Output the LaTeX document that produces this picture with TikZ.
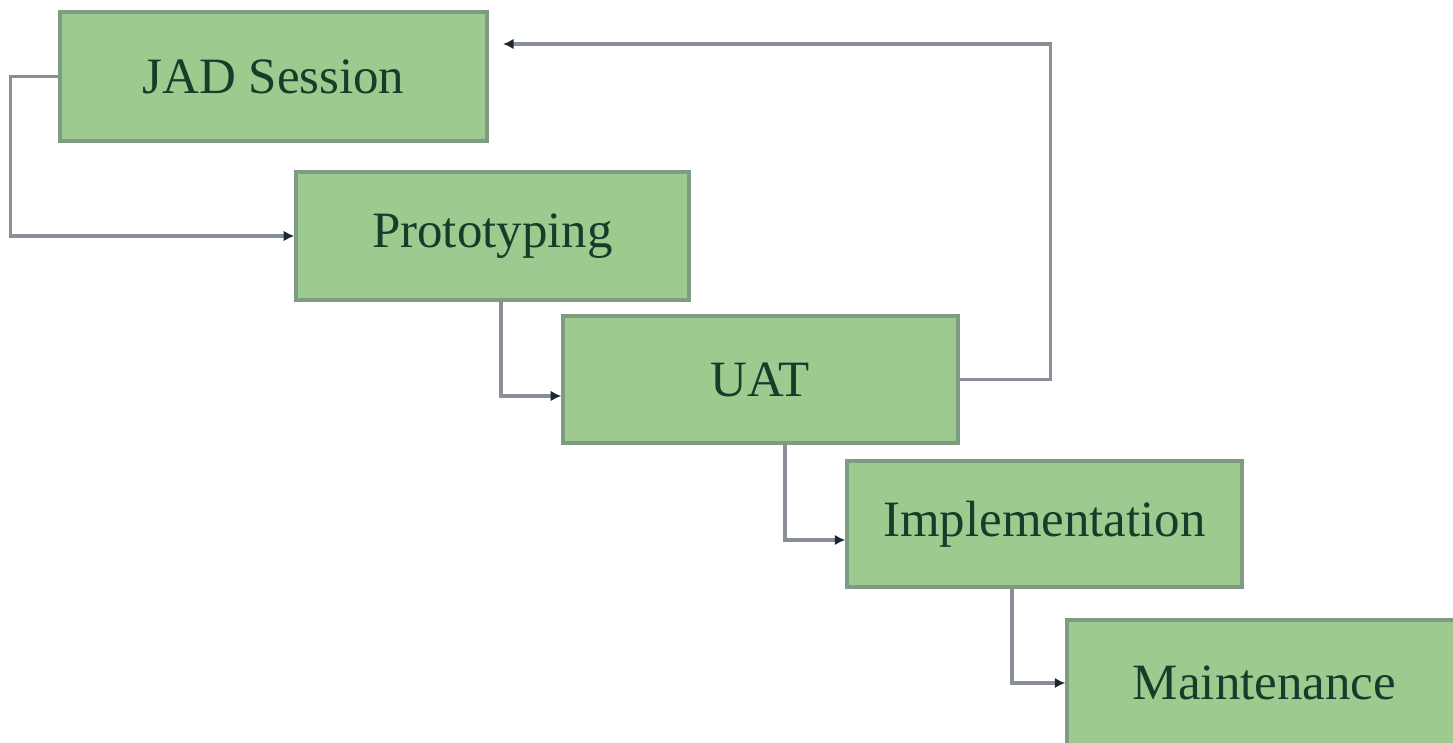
\documentclass[tikz,border=0pt]{standalone}
\usepackage{fontspec}
\setmainfont{Liberation Serif}
\usetikzlibrary{arrows.meta}
\definecolor{boxfill}{HTML}{9DCB8F}
\definecolor{boxline}{HTML}{7E9B84}
\definecolor{boxtext}{HTML}{173D2A}
\definecolor{linkcol}{HTML}{8A8E97}
\definecolor{tipcol}{HTML}{1A2A30}
\tikzset{>={Latex[length=6pt,width=6pt,color=tipcol]}}
\tikzset{phase/.style={draw=boxline, fill=boxfill, line width=2pt, text=boxtext,
    font=\fontsize{29}{34}\selectfont, minimum width=7.9cm, minimum height=2.54cm, inner sep=0pt},
  link/.style={->, draw=linkcol, line width=2pt}}

\begin{document}
\begin{tikzpicture}[x=0.02cm, y=-0.02cm]

\useasboundingbox (0,0) rectangle (1453,743);

\node[phase, minimum width=8.54cm, minimum height=2.58cm] (jad) at (273.5,76.5) {JAD Session};
\node[phase, minimum width=7.86cm, minimum height=2.56cm] (proto) at (492.5,236) {Prototyping};
\node[phase] (uat) at (760.5,379.5) {UAT};
\node[phase, minimum height=2.52cm] (impl) at (1044.5,524) {Implementation};
\node[phase, minimum height=2.52cm] (maint) at (1264.5,683) {Maintenance};

\coordinate (back) at (503,44);

\draw[link] (jad.west) -- ++(-48,0) |- (proto.west);
\draw[link] ([xshift=0.17cm]proto.south) |- ([yshift=-0.33cm]uat.west);
\draw[link] (uat.east) -- ++(91,0) |- (back);
\draw[link] ([xshift=0.49cm]uat.south) |- ([yshift=-0.32cm]impl.west);
\draw[link] ([xshift=-0.65cm]impl.south) |- (maint.west);

\end{tikzpicture}
\end{document}
